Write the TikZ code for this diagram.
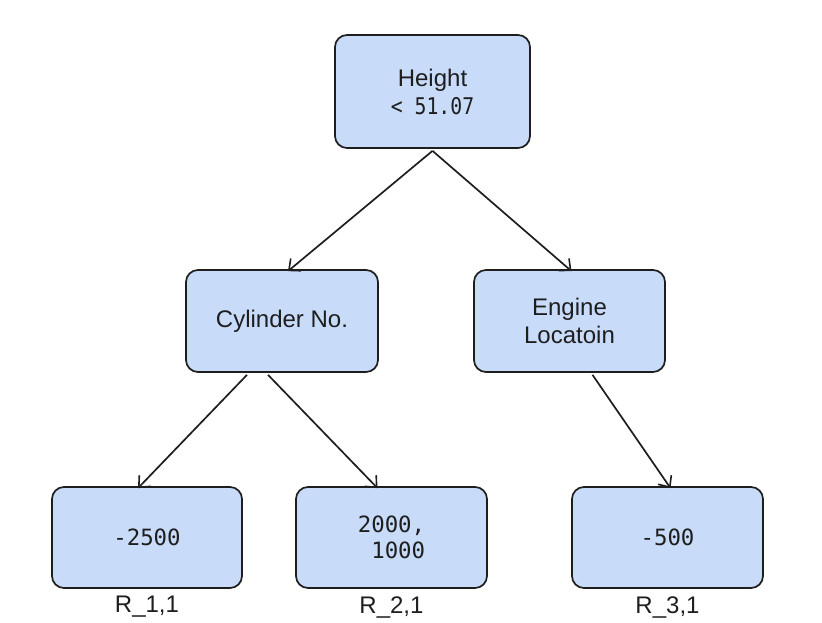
\documentclass[tikz,border=0pt]{standalone}
\usepackage{fontspec}
\setmainfont{Liberation Sans}
\newfontfamily\monofont{DejaVu Sans Mono}
\newfontfamily\condmono[FakeStretch=0.86]{DejaVu Sans Mono}
\usetikzlibrary{arrows.meta}
\definecolor{boxfill}{HTML}{C8DCFA}
\definecolor{ink}{HTML}{1E1E1E}
\tikzset{
  treebox/.style={draw=ink, fill=boxfill, line width=1.7pt, rounded corners=12pt,
    align=center, inner sep=0pt, font=\fontsize{24}{28}\selectfont, text=ink},
  numbox/.style={treebox, font=\monofont\fontsize{22.4}{26}\selectfont},
  leaflabel/.style={font=\fontsize{24}{26}\selectfont, text=ink, inner sep=0pt},
  edge/.style={draw=ink, line width=1.7pt, -{Straight Barb[length=9pt,width=16pt,line width=1.6pt]}}
}
\begin{document}
\begin{tikzpicture}[x=1pt,y=-1pt]
\useasboundingbox (0,0) rectangle (822,622);
\node[treebox, minimum width=195pt, minimum height=113pt] (root) at (432.5,91.5)
  {Height\\ {\condmono\fontsize{23}{26}\selectfont < 51.07}};
\node[treebox, minimum width=192pt, minimum height=102pt] (cyl) at (282,321) {Cylinder No.};
\node[treebox, minimum width=191pt, minimum height=102pt] (eng) at (569.5,321) {Engine\\Locatoin};
\node[numbox, minimum width=190pt, minimum height=101pt] (l1) at (147,537.5) {-2500};
\node[numbox, minimum width=191pt, minimum height=101pt] (l2) at (391.5,537.5) {2000,\\\phantom{0}1000};
\node[numbox, minimum width=191pt, minimum height=101pt] (l3) at (667.5,537.5) {-500};
\node[leaflabel] (r1) at (147,607) {R\_1,1};
\node[leaflabel] (r2) at (391.5,607) {R\_2,1};
\node[leaflabel] (r3) at (667.5,607) {R\_3,1};
\coordinate (rs) at ([yshift=-2pt]root.south);
\draw[edge] (rs) -- ([xshift=6pt,yshift=-2pt]cyl.north);
\draw[edge] (rs) -- ([xshift=2pt,yshift=-2pt]eng.north);
\draw[edge] ([xshift=-35pt,yshift=-2pt]cyl.south) -- ([xshift=-9pt,yshift=-2pt]l1.north);
\draw[edge] ([xshift=-14pt,yshift=-2pt]cyl.south) -- ([xshift=-14pt,yshift=-2pt]l2.north);
\draw[edge] ([xshift=23pt,yshift=-2pt]eng.south) -- ([xshift=3pt,yshift=-2pt]l3.north);
\end{tikzpicture}
\end{document}
